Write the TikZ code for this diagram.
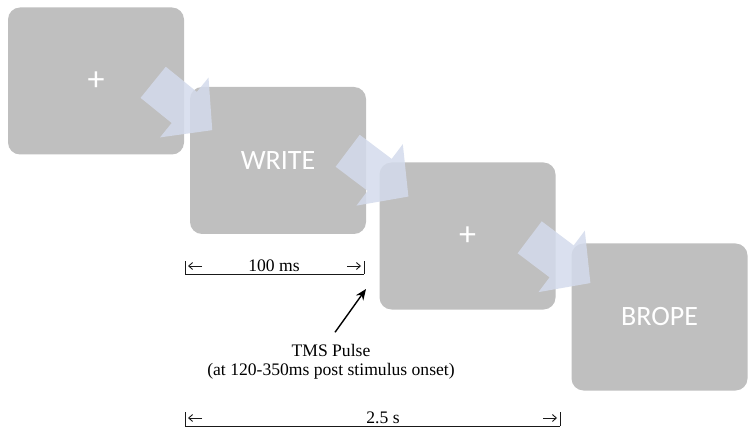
\documentclass[tikz,border=0pt]{standalone}
\usepackage{fontspec}
\setmainfont{Liberation Serif}
\newfontfamily\screenfont{Carlito}
\usepackage{tikz}
\usetikzlibrary{arrows.meta, positioning, calc}
\definecolor{screengrey}{RGB}{191,191,191}
\definecolor{flowblue}{RGB}{212,219,236}
\definecolor{mydark}{RGB}{25,25,25}
\tikzset{
  screen/.style={fill=screengrey, rectangle, rounded corners=12pt, minimum width=176pt, minimum height=147pt, inner sep=0pt, text=white, font=\screenfont\fontsize{28}{30}\selectfont},
  fixmark/.style={screen, font=\screenfont\fontsize{34}{36}\selectfont},
  flow/.style={fill=flowblue, fill opacity=0.85},
  line/.style={draw=mydark, line width=0.9pt},
  tick/.style={draw=mydark, line width=0.9pt, -{Straight Barb[length=4pt, width=7pt]}},
  arrow/.style={draw=black, -{Stealth[length=11pt, width=9pt]}, line width=1.4pt},
  lbl/.style={font=\fontsize{17.6}{19}\selectfont, align=center, inner sep=0pt}
}
\begin{document}
\begin{tikzpicture}[x=1pt, y=-1pt]
  \useasboundingbox (0,0) rectangle (749,446);

  % Screens
  \node[fixmark] (fix1) at (96,81) {+};
  \node[screen] (word) at (278,160.5) {WRITE};
  \node[fixmark] (fix2) at (467.5,236) {+};
  \node[screen] (mask) at (659.5,317) {BROPE};

  % Block arrows between screens
  \fill[flow, shift={($(fix1.north east)+(-31,75)$)}, rotate=-39] (0,20) -- (40,20) -- (40,38.5) -- (76,0) -- (40,-38.5) -- (40,-20) -- (0,-20) -- cycle;
  \fill[flow, shift={($(word.north east)+(-18.5,64)$)}, rotate=-37] (0,20) -- (40,20) -- (40,38.5) -- (76,0) -- (40,-38.5) -- (40,-20) -- (0,-20) -- cycle;
  \fill[flow, shift={($(fix2.north east)+(-26,75)$)}, rotate=-37] (0,20) -- (40,20) -- (40,38.5) -- (76,0) -- (40,-38.5) -- (40,-20) -- (0,-20) -- cycle;

  % 100 ms
  \coordinate (s1) at (185,274);
  \coordinate (e1) at (364,274);
  \node[lbl] (t100) at (274,266) {100 ms};
  \draw[line] (s1) -- (e1);
  \draw[line] (s1) -- ++(0,-13);
  \draw[line] (e1) -- ++(0,-13);
  \draw[tick] ($(s1)+(17,-8)$) -- ($(s1)+(3,-8)$);
  \draw[tick] ($(e1)+(-17,-8)$) -- ($(e1)+(-3,-8)$);

  % 2.5 s
  \coordinate (s2) at (185,426);
  \coordinate (e2) at (560,426);
  \node[lbl] (t25) at (383,418) {2.5 s};
  \draw[line] (s2) -- (e2);
  \draw[line] (s2) -- ++(0,-14);
  \draw[line] (e2) -- ++(0,-14);
  \draw[tick] ($(s2)+(17,-8)$) -- ($(s2)+(3,-8)$);
  \draw[tick] ($(e2)+(-17,-8)$) -- ($(e2)+(-3,-8)$);

  % TMS pulse
  \node[lbl] (tms) at (331,362) {TMS Pulse\\(at 120-350ms post stimulus onset)};
  \coordinate (pulse) at (366,289);
  \draw[arrow] ($(tms.north)+(4,-12)$) -- (pulse);
\end{tikzpicture}
\end{document}
